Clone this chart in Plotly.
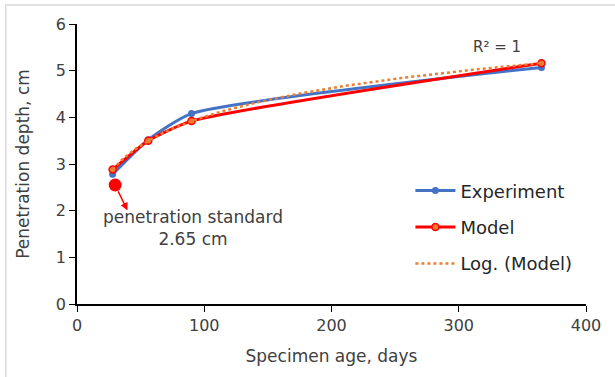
import numpy as np
import plotly.graph_objects as go

age_days = [28, 56, 90, 365]
experiment = [2.78, 3.52, 4.08, 5.07]
model = [2.88, 3.50, 3.92, 5.16]
standard_x = [30]
standard_y = [2.55]

# logarithmic trendline of Model (Excel-style)
coef = np.polyfit(np.log(age_days), model, 1)
trend_x = np.linspace(min(age_days), max(age_days), 200)
trend_y = coef[0] * np.log(trend_x) + coef[1]

FONT = "DejaVu Sans"
TXT = "#404040"
fig = go.Figure()
fig.add_trace(go.Scatter(x=age_days, y=experiment, mode="lines+markers", name="Experiment",
                         legendgroup="a",
                         line=dict(color="#4472C4", width=3, shape="spline", smoothing=0.55),
                         marker=dict(color="#4472C4", size=7)))
fig.add_trace(go.Scatter(x=age_days, y=model, mode="lines+markers", name="Model",
                         legendgroup="b",
                         line=dict(color="#FF0000", width=3, shape="spline", smoothing=0.55),
                         marker=dict(color="#ED7D31", size=7, line=dict(color="#FF0000", width=1.5))))
fig.add_trace(go.Scatter(x=trend_x, y=trend_y, mode="lines", name="Log. (Model)",
                         legendgroup="c",
                         line=dict(color="#ED7D31", width=2.5, dash="dot")))
fig.add_trace(go.Scatter(x=standard_x, y=standard_y, mode="markers", showlegend=False,
                         marker=dict(color="#FF0000", size=13)))

fig.add_annotation(x=standard_x[0], y=standard_y[0], ax=13, ay=27, axref="pixel", ayref="pixel",
                   text="", showarrow=True, arrowside="start", startarrowhead=2, startarrowsize=1,
                   arrowwidth=1.5, arrowcolor="#FF0000", standoff=7)
fig.add_annotation(x=91, y=1.62, text="penetration standard<br>2.65 cm", showarrow=False,
                   font=dict(family=FONT, size=17, color=TXT), align="center")
fig.add_annotation(x=330, y=5.5, text="R² = 1", showarrow=False,
                   font=dict(family=FONT, size=15, color=TXT))

fig.update_layout(
    width=615, height=377, margin=dict(l=77, r=29, t=24, b=73),
    paper_bgcolor="white", plot_bgcolor="white",
    font=dict(family=FONT, size=15, color=TXT),
    legend=dict(x=0.655, y=0.47, xanchor="left", yanchor="top", bgcolor="rgba(255,255,255,0)",
                font=dict(family=FONT, size=18, color="#262626"), tracegroupgap=10,
                itemwidth=40),
    xaxis=dict(range=[0, 400], dtick=100, showgrid=False, zeroline=False, showline=True,
               linecolor="black", linewidth=1.5, ticks="outside", ticklen=6, tickcolor="black",
               tickfont=dict(size=16, color=TXT),
               title=dict(text="Specimen age, days", font=dict(size=17, color=TXT), standoff=16)),
    yaxis=dict(range=[0, 6], dtick=1, showgrid=False, zeroline=False, showline=True,
               linecolor="black", linewidth=1.5, ticks="outside", ticklen=6, tickcolor="black",
               tickfont=dict(size=16, color=TXT),
               title=dict(text="Penetration depth, cm", font=dict(size=17, color=TXT), standoff=22)),
    shapes=[dict(type="rect", xref="paper", yref="paper", x0=-0.140, x1=1.2, y0=-0.5, y1=1.068,
                 line=dict(color="#D9D9D9", width=1.5))]
)
fig.write_html("out.html")
